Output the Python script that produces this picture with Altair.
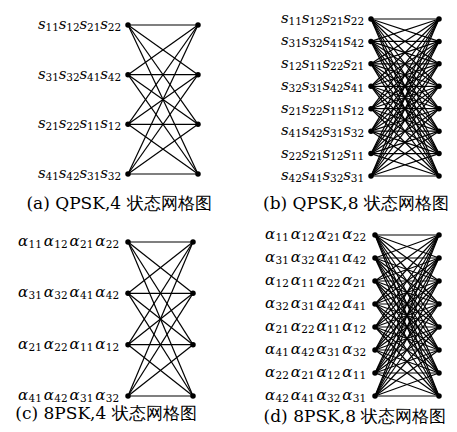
import altair as alt
import pandas as pd

# ---- data ----
qpsk4_subs = [["11", "12", "21", "22"], ["31", "32", "41", "42"],
              ["21", "22", "11", "12"], ["41", "42", "31", "32"]]
qpsk8_subs = [["11", "12", "21", "22"], ["31", "32", "41", "42"],
              ["12", "11", "22", "21"], ["32", "31", "42", "41"],
              ["21", "22", "11", "12"], ["41", "42", "31", "32"],
              ["22", "21", "12", "11"], ["42", "41", "32", "31"]]
psk8_4_subs = [["11", "12", "21", "22"], ["31", "32", "41", "42"],
               ["21", "22", "11", "12"], ["41", "42", "31", "32"]]
psk8_8_subs = [["11", "12", "21", "22"], ["31", "32", "41", "42"],
               ["12", "11", "22", "21"], ["32", "31", "42", "41"],
               ["21", "22", "11", "12"], ["41", "42", "31", "32"],
               ["22", "21", "12", "11"], ["42", "41", "32", "31"]]
letters = ["s", "s", "α", "α"]
captions = ["(a) QPSK,4 状态网格图", "(b) QPSK,8 状态网格图",
            "(c) 8PSK,4 状态网格图", "(d) 8PSK,8 状态网格图"]

SERIF = "DejaVu Serif"
CAP_FONT = "DejaVu Serif"


def panel(subs, letter, xr, yr, cap, cap_xy, pitch, lw, h, gap=9):
    n = len(subs)
    xs = alt.Scale(domain=[0, 1], range=xr)
    ys = alt.Scale(domain=[0, n - 1], range=yr)
    edges = pd.DataFrame([{"a": 0, "b": 1, "i": i, "j": j}
                          for i in range(n) for j in range(n)])
    nodes = pd.DataFrame([{"x": c, "k": k} for c in (0, 1) for k in range(n)])
    lab = pd.DataFrame([{"x": 0, "k": k, **{f"t{t}": letter for t in range(4)},
                         **{f"u{t}": subs[k][t] for t in range(4)}}
                        for k in range(n)])
    rules = alt.Chart(edges).mark_rule(color="black", strokeWidth=1.2).encode(
        x=alt.X("a:Q", scale=xs, axis=None), x2="b:Q",
        y=alt.Y("i:Q", scale=ys, axis=None), y2="j:Q")
    pts = alt.Chart(nodes).mark_circle(color="black", opacity=1, size=30).encode(
        x=alt.X("x:Q", scale=xs, axis=None), y=alt.Y("k:Q", scale=ys, axis=None))
    layers = [rules, pts]
    start = -(gap + 4 * pitch) + 2
    for t in range(4):
        d0 = start + t * pitch
        layers.append(alt.Chart(lab).mark_text(
            align="left", baseline="middle", dx=d0, dy=-1, font=SERIF,
            fontStyle="italic", fontSize=15, color="black").encode(
            x=alt.X("x:Q", scale=xs, axis=None), y=alt.Y("k:Q", scale=ys, axis=None),
            text=f"t{t}:N"))
        layers.append(alt.Chart(lab).mark_text(
            align="left", baseline="middle", dx=d0 + lw, dy=3, font=SERIF,
            fontSize=10.5, color="black").encode(
            x=alt.X("x:Q", scale=xs, axis=None), y=alt.Y("k:Q", scale=ys, axis=None),
            text=f"u{t}:N"))
    capc = alt.Chart(pd.DataFrame({"c": [cap]})).mark_text(
        align="center", baseline="middle", font=CAP_FONT, fontSize=17,
        color="black").encode(x=alt.value(cap_xy[0]), y=alt.value(cap_xy[1]),
                              text="c:N")
    layers.append(capc)
    return alt.layer(*layers).properties(width=220, height=h)


pa = panel(qpsk4_subs, letters[0], [120, 190], [11, 160], captions[0], (111, 190), 20.75, 7.5, 208)
pb = panel(qpsk8_subs, letters[1], [143, 211], [5, 162], captions[1], (128, 190), 20.75, 7.5, 208)
pc = panel(psk8_4_subs, letters[2], [120, 185], [20, 174], captions[2], (98, 192), 25.75, 10.5, 205)
pd_ = panel(psk8_8_subs, letters[3], [147, 211], [13, 174], captions[3], (127, 195), 25.75, 10.5, 205)

chart = alt.vconcat(
    alt.hconcat(pa, pb, spacing=0).resolve_scale(x="independent", y="independent"),
    alt.hconcat(pc, pd_, spacing=0).resolve_scale(x="independent", y="independent"),
    spacing=0,
).resolve_scale(x="independent", y="independent").properties(
    padding={"top": 3, "left": 0, "right": 0, "bottom": 0}, background="white"
).configure_view(stroke=None)

chart.save("out.html", embed_options={"renderer": "svg", "actions": False})
